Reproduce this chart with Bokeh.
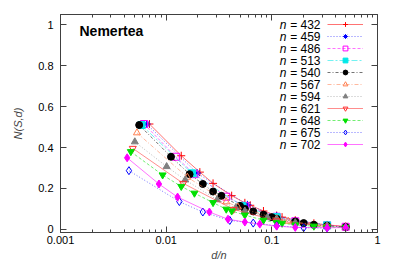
from bokeh.plotting import figure
from bokeh.models import Range1d, FixedTicker, LogAxis, LinearAxis, Legend, LegendItem, Label
from bokeh.embed import file_html
from bokeh.resources import INLINE

# ---- data: d values (divisor sizes) and N(S,d) per n ----
n_values = [432, 459, 486, 513, 540, 567, 594, 621, 648, 675, 702]

d_432 = [3, 6, 9, 12, 18, 24, 27, 36, 48, 54, 72, 108, 144, 216]
N_432 = [0.515, 0.36, 0.28, 0.225, 0.165, 0.13, 0.118, 0.09, 0.068, 0.06, 0.045, 0.03, 0.022, 0.015]
d_459 = [3, 9, 27, 51, 153]
N_459 = [0.515, 0.275, 0.12, 0.065, 0.02]
d_486 = [3, 6, 9, 18, 27, 54, 81, 162, 243]
N_486 = [0.515, 0.355, 0.27, 0.16, 0.115, 0.062, 0.04, 0.02, 0.013]
d_513 = [3, 9, 27, 57, 171]
N_513 = [0.51, 0.274, 0.115, 0.06, 0.02]
d_540 = [3, 6, 9, 12, 15, 18, 27, 30, 36, 45, 54, 60, 90, 108, 135, 180, 270]
N_540 = [0.51, 0.355, 0.27, 0.222, 0.185, 0.164, 0.115, 0.10, 0.088, 0.072, 0.06, 0.052, 0.039, 0.031, 0.023, 0.018, 0.012]
d_567 = [3, 9, 21, 27, 63, 81, 189]
N_567 = [0.472, 0.255, 0.135, 0.11, 0.052, 0.04, 0.017]
d_594 = [3, 6, 9, 18, 27, 33, 54, 66, 99, 198, 297]
N_594 = [0.428, 0.307, 0.242, 0.145, 0.105, 0.09, 0.058, 0.048, 0.033, 0.017, 0.011]
d_621 = [3, 9, 27, 69, 207]
N_621 = [0.396, 0.225, 0.098, 0.042, 0.014]
d_648 = [3, 6, 9, 12, 18, 24, 27, 36, 54, 72, 81, 108, 162, 216, 324]
N_648 = [0.38, 0.266, 0.21, 0.177, 0.131, 0.099, 0.09, 0.07, 0.045, 0.033, 0.03, 0.022, 0.016, 0.012, 0.01]
d_675 = [3, 9, 15, 27, 45, 75, 135, 225]
N_675 = [0.287, 0.136, 0.085, 0.044, 0.031, 0.018, 0.008, 0.007]
d_702 = [3, 6, 9, 18, 27, 39, 54, 78, 117, 234, 351]
N_702 = [0.35, 0.222, 0.158, 0.085, 0.05, 0.036, 0.026, 0.016, 0.01, 0.008, 0.009]

d_lists = [d_432, d_459, d_486, d_513, d_540, d_567, d_594, d_621, d_648, d_675, d_702]
N_lists = [N_432, N_459, N_486, N_513, N_540, N_567, N_594, N_621, N_648, N_675, N_702]

x_ticks = [0.001, 0.01, 0.1, 1]
x_tick_labels = ["0.001", "0.01", "0.1", "1"]
y_ticks = [0, 0.2, 0.4, 0.6, 0.8, 1]
y_tick_labels = ["0", "0.2", "0.4", "0.6", "0.8", "1"]

# ---- styles ----
colors = ["#ff0000", "#0000ff", "#ff00ff", "#00e8e8", "#000000", "#ff7f50",
          "#808080", "#ff3030", "#00e000", "#0000ff", "#ff00ff"]
markers = ["cross", "asterisk", "square", "square", "circle", "triangle",
           "triangle", "inverted_triangle", "inverted_triangle", "diamond", "diamond"]
filled = [False, False, False, True, True, False, True, False, True, False, True]
dashes = ["solid", "1 2", "3 2", "6 2 2 2", "3 2 1 2", "4 2 1 2",
          "1 2", "solid", "3 2", "1 2", "solid"]
msizes = [8, 8, 7, 7, 7, 7, 7, 7, 7, 8, 8]

FONT = "Liberation Sans"
AX = "#404040"

# frame geometry (canvas pixels)
W, H = 384, 264
FL, FT, FR, FB = 60, 14, 377, 232
XMIN, XMAX = 0.001, 1.0
YMIN, YMAX = -0.015, 1.05

p = figure(width=W, height=H, x_axis_type="log",
           x_range=Range1d(XMIN, XMAX), y_range=Range1d(YMIN, YMAX),
           output_backend="svg", toolbar_location=None,
           min_border_left=FL, min_border_right=W - FR, min_border_top=FT,
           min_border_bottom=H - FB)
p.xgrid.visible = False
p.ygrid.visible = False
p.outline_line_color = AX
p.background_fill_color = "white"
p.border_fill_color = "white"

minor_x = [k * 10.0 ** e for e in (-3, -2, -1) for k in range(2, 10)]

def style_axis(ax, show_labels):
    ax.axis_line_color = AX
    ax.major_tick_line_color = AX
    ax.minor_tick_line_color = AX
    ax.major_tick_in = 6
    ax.major_tick_out = 0
    ax.minor_tick_in = 3
    ax.minor_tick_out = 0
    ax.major_label_text_font = FONT
    ax.major_label_text_color = "black"
    if show_labels:
        ax.major_label_text_font_size = "11px"
        ax.major_label_standoff = 5
    else:
        ax.major_label_text_font_size = "0px"
        ax.major_label_standoff = 0

xb = p.xaxis[0]
xb.ticker = FixedTicker(ticks=x_ticks, minor_ticks=minor_x)
xb.major_label_overrides = {t: s for t, s in zip(x_ticks, x_tick_labels)}
style_axis(xb, True)
xb.major_label_standoff = 3
xb.axis_label = "d/n"
xb.axis_label_text_font = FONT
xb.axis_label_text_font_style = "italic"
xb.axis_label_text_font_size = "11px"
xb.axis_label_standoff = 2

yl = p.yaxis[0]
yl.ticker = FixedTicker(ticks=y_ticks, minor_ticks=[])
yl.major_label_overrides = {t: s for t, s in zip(y_ticks, y_tick_labels)}
style_axis(yl, True)
yl.major_label_standoff = 7
yl.axis_label = "N(S,d)"
yl.axis_label_text_font = FONT
yl.axis_label_text_font_style = "italic"
yl.axis_label_text_font_size = "11px"
yl.axis_label_standoff = 11

xt = LogAxis(ticker=FixedTicker(ticks=x_ticks, minor_ticks=minor_x),
             major_label_overrides={t: "" for t in x_ticks})
style_axis(xt, False)
p.add_layout(xt, "above")

yr = LinearAxis(ticker=FixedTicker(ticks=y_ticks, minor_ticks=[]),
                major_label_overrides={t: "" for t in y_ticks})
style_axis(yr, False)
p.add_layout(yr, "right")

# ---- series ----
items = []
for n, d_list, N_list, c, mk, fl, ds, ms in zip(n_values, d_lists, N_lists, colors,
                                                markers, filled, dashes, msizes):
    xs = [d / n for d in d_list]
    lr = p.line(xs, N_list, line_color=c, line_width=1, line_alpha=0.55, line_dash=ds)
    sr = p.scatter(xs, N_list, marker=mk, size=ms, line_color=c, line_width=1,
                   fill_color=c if fl else None, fill_alpha=1.0 if fl else 0.0)
    items.append(LegendItem(label="n = %d" % n, renderers=[lr, sr]))

# legend geometry (canvas pixels)
LEG_X0, LEG_ROW0, LEG_ROWH, LEG_GW = 327, 24.3, 12, 36
n_rows = len(n_values)
leg_top = LEG_ROW0 - LEG_ROWH / 2.0
leg_bottom = leg_top + LEG_ROWH * n_rows
legend = Legend(items=items, location=(LEG_X0 - FL, FB - leg_bottom), orientation="vertical",
                glyph_width=LEG_GW, glyph_height=LEG_ROWH, label_height=LEG_ROWH, label_width=0,
                label_standoff=0, spacing=0, padding=0, margin=0,
                label_text_font_size="1px", label_text_alpha=0.0,
                border_line_color=None, background_fill_alpha=0.0)
p.add_layout(legend)

def px_to_x(px):
    return 10 ** (-3 + 3.0 * (px - FL) / (FR - FL))

def py_to_y(py):
    return YMAX - (py - FT) / float(FB - FT) * (YMAX - YMIN)

# legend texts (label on the left of the sample, as in the original)
for i, n in enumerate(n_values):
    yy = py_to_y(LEG_ROW0 + LEG_ROWH * i)
    p.add_layout(Label(x=px_to_x(320), y=yy, text="= %d" % n,
                       text_align="right", text_baseline="middle", text_font=FONT,
                       text_font_size="12px", text_color="black"))
    p.add_layout(Label(x=px_to_x(286), y=yy, text="n",
                       text_align="right", text_baseline="middle", text_font=FONT,
                       text_font_size="12px", text_font_style="italic", text_color="black"))

p.add_layout(Label(x=px_to_x(79), y=py_to_y(30), text="Nemertea", text_font=FONT,
                   text_font_size="14px", text_font_style="bold",
                   text_baseline="middle", text_color="black"))

open("out.html", "w").write(file_html(p, INLINE))
